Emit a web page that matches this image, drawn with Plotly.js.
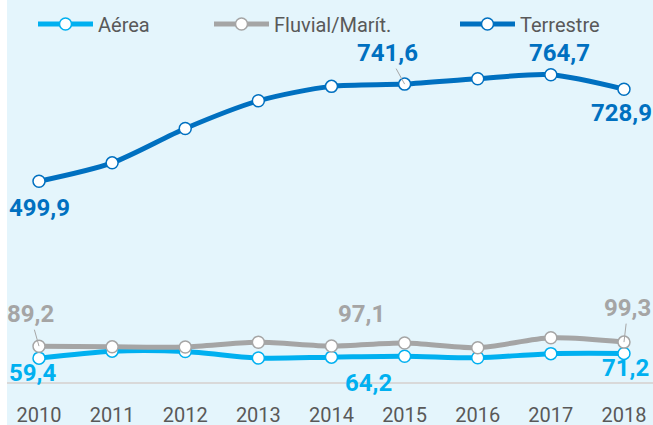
<!DOCTYPE html>
<html>
<head>
<meta charset="utf-8">
<script src="https://cdn.plot.ly/plotly-3.0.1.min.js"></script>
<style>html,body{margin:0;padding:0;background:#fff;}#chart{width:653px;height:425px;}</style>
</head>
<body>
<div id="chart"></div>
<script>
// ---- data ----
const years = [2010, 2011, 2012, 2013, 2014, 2015, 2016, 2017, 2018];
const seriesNames = ["Aérea", "Fluvial/Marít.", "Terrestre"];
const aerea     = [59.4, 76.8, 76.0, 59.6, 61.9, 64.2, 60.2, 70.6, 71.2];
const fluvial   = [89.2, 87.5, 87.3, 99.1, 89.6, 97.1, 85.4, 110.0, 99.3];
const terrestre = [499.9, 545.6, 631.1, 700.0, 736.0, 741.6, 754.9, 764.7, 728.9];
const tickLabels = ["2010", "2011", "2012", "2013", "2014", "2015", "2016", "2017", "2018"];
// indices of labelled points per series
const aereaLabelIdx = [0, 5, 8];
const fluvialLabelIdx = [0, 5, 8];
const terrestreLabelIdx = [0, 5, 7, 8];

// ---- styling ----
const colors = ["#00b0f0", "#a5a5a5", "#0070c0"];
const bg = "#e4f5fc";
const FONT = "Roboto, 'Open Sans', sans-serif";
const seriesData = [aerea, fluvial, terrestre];
const labelIdx = [aereaLabelIdx, fluvialLabelIdx, terrestreLabelIdx];
// label offsets (px) [ax, ay, leader]
const labelOffsets = [
  [[-7, 15, false], [-36, 27, false], [2, 15, false]],
  [[-9, -32, true], [-43, -29, false], [4, -34, true]],
  [[0, 27, false], [-17, -31, true], [9, -22, false], [-2, 24, false]]
];

const PLOT_L = 7, PLOT_W = 646, PLOT_H = 382;
const legendX = [33, 209, 455];
const traces = seriesData.map((ys, i) => ({
  type: "scatter", mode: "lines+markers", name: seriesNames[i],
  x: years, y: ys,
  line: {color: colors[i], width: 5, shape: "spline", smoothing: 0.8},
  marker: {symbol: "circle", size: 12, color: "#ffffff", line: {color: colors[i], width: 1.5}},
  legend: i === 0 ? "legend" : "legend" + (i + 1),
  hoverinfo: "skip"
}));

const fmt = v => v.toFixed(1).replace(".", ",");
const annotations = [];
seriesData.forEach((ys, i) => {
  labelIdx[i].forEach((k, j) => {
    const o = labelOffsets[i][j];
    annotations.push({
      x: years[k], y: ys[k], xref: "x", yref: "y",
      text: fmt(ys[k]),
      showarrow: true, ax: o[0], ay: o[1], axref: "pixel", ayref: "pixel",
      arrowhead: 0, arrowwidth: 1, standoff: 0,
      arrowcolor: o[2] ? "#a6a6a6" : "rgba(0,0,0,0)",
      font: {family: FONT, size: 24, color: colors[i], weight: "bold"}
    });
  });
});

function legendCfg(i) {
  return {
    orientation: "h", xref: "paper", yref: "paper",
    x: (legendX[i] - PLOT_L) / PLOT_W, xanchor: "left", y: 1 - 24 / PLOT_H, yanchor: "middle",
    bgcolor: "rgba(0,0,0,0)", borderwidth: 0, itemwidth: 55,
    font: {family: FONT, size: 20, color: "#595959"}
  };
}

const layout = {
  width: 653, height: 425,
  margin: {l: 7, r: 0, t: 0, b: 43, pad: 0},
  paper_bgcolor: bg, plot_bgcolor: bg,
  showlegend: true,
  legend: legendCfg(0), legend2: legendCfg(1), legend3: legendCfg(2),
  xaxis: {
    type: "linear", range: [2009.5624, 2018.397],
    tickmode: "array", tickvals: years, ticktext: tickLabels,
    showgrid: false, zeroline: false,
    showline: true, linecolor: "#d9d9d9", linewidth: 1.5,
    ticks: "", ticklabelstandoff: 14,
    tickfont: {family: FONT, size: 20, color: "#595959"}
  },
  yaxis: {range: [0, 951], visible: false, showgrid: false, zeroline: false, fixedrange: true},
  shapes: [{type: "rect", xref: "paper", yref: "paper", x0: -0.02, x1: 0, y0: -0.2, y1: 1.05,
            fillcolor: "#ffffff", line: {width: 0}, layer: "below"}],
  annotations: annotations
};

Plotly.newPlot("chart", traces, layout, {displayModeBar: false, staticPlot: true});
</script>
</body>
</html>
